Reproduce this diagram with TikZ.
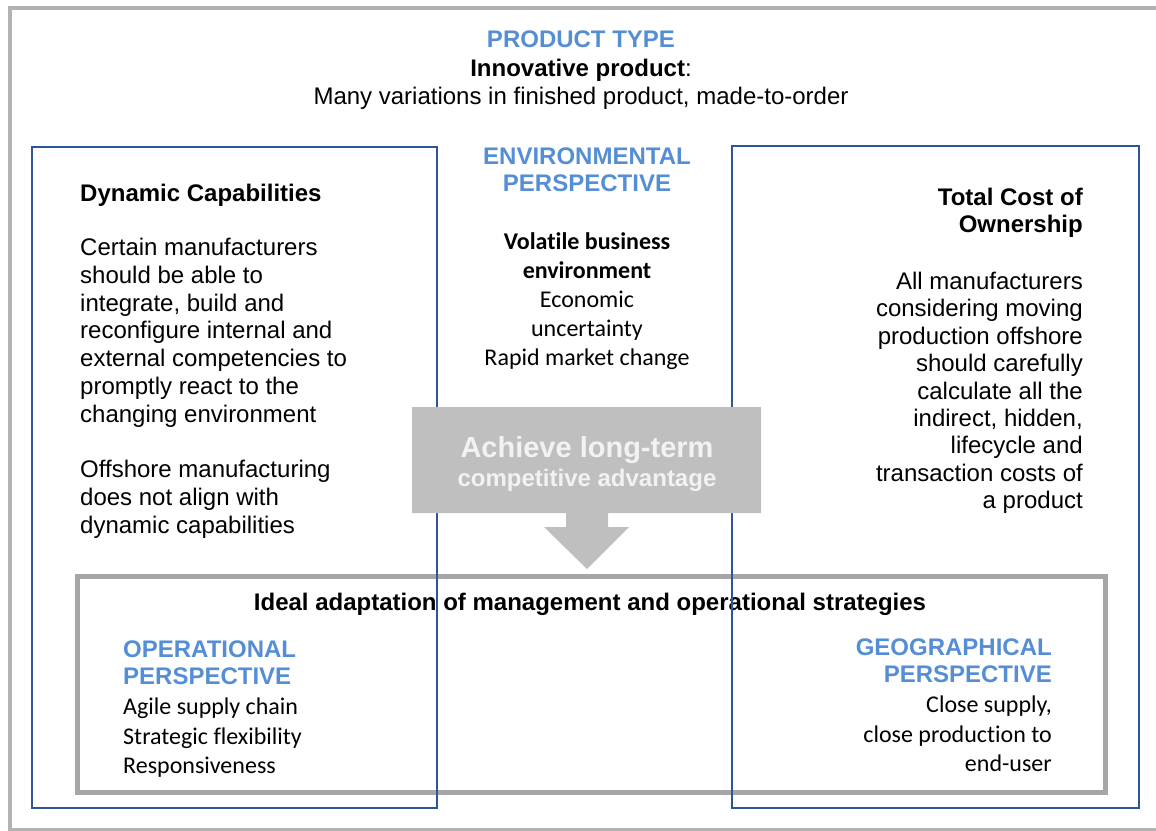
\documentclass[tikz,border=0pt]{standalone}
\usepackage{fontspec}
\setmainfont{Liberation Sans}
\newfontfamily\carlito[Ligatures=NoCommon]{Carlito}
\usetikzlibrary{positioning}

\definecolor{headblue}{RGB}{85,142,213}
\definecolor{boxblue}{RGB}{47,85,151}
\definecolor{framegray}{RGB}{166,166,166}
\definecolor{arrowgray}{RGB}{191,191,191}

\begin{document}
\begin{tikzpicture}[x=1pt, y=-1pt, inner sep=0pt]
		\tikzstyle{head} = [font=\fontsize{24}{26.5}\selectfont\bfseries, text=headblue]
		\tikzstyle{body} = [font=\fontsize{24}{27.8}\selectfont]
		\tikzstyle{cbody} = [font=\fontsize{24}{29.2}\selectfont\carlito]
		\tikzstyle{bluebox} = [draw=boxblue, line width=2pt]
		\tikzstyle{graybox} = [draw=framegray, line width=5pt]
		\tikzstyle{goal} = [text=white!95!black, font=\bfseries]
		
		\useasboundingbox (0,0) rectangle (1156,830);
		\draw[draw=framegray!85, line width=4pt] (9.5,7.5) rectangle (1162,830);
		
		% inner frame
		\draw[graybox] (77.5,576.5) rectangle (1105,792);
		
		% texts
		\node[head, anchor=north] 	at (581, 31)	(ptype) 	{PRODUCT TYPE};
		\node[body, anchor=north, align=center] 	at (581, 59)	(pdesc) 	{\textbf{Innovative product}:\\Many variations in finished product, made-to-order};
		
		\node[head, anchor=north, align=center] 	at (587, 148)	(envhead) 	{ENVIRONMENTAL\\PERSPECTIVE};
		\node[cbody, anchor=north, align=center] 	at (587, 232)	(envtext) 	{\textbf{Volatile business}\\\textbf{environment}\\Economic\\uncertainty\\Rapid market change};
		
		\node[body, anchor=north west] 	at (80, 184)	(dyntitle) 	{\textbf{Dynamic Capabilities}};
		\node[body, anchor=north west, align=left] 	at (80, 238)	(dyntext) 	{Certain manufacturers\\should be able to\\integrate, build and\\reconfigure internal and\\external competencies to\\promptly react to the\\changing environment\\[27.8pt]Offshore manufacturing\\does not align with\\dynamic capabilities};
		
		\node[body, anchor=north east, align=right, font=\fontsize{24}{27}\selectfont\bfseries] 	at (1083, 188)	(tcotitle) 	{Total Cost of\\Ownership};
		\node[body, anchor=north east, align=right, font=\fontsize{24}{27.4}\selectfont] 	at (1083, 272)	(tcotext) 	{All manufacturers\\considering moving\\production offshore\\should carefully\\calculate all the\\indirect, hidden,\\lifecycle and\\transaction costs of\\a product};
		
		\node[body, anchor=north] 	at (590, 593)	(ideal) 	{\textbf{Ideal adaptation of management and operational strategies}};
		
		\node[head, anchor=north west, align=left] 	at (123, 641)	(ophead) 	{OPERATIONAL\\PERSPECTIVE};
		\node[cbody, anchor=north west, align=left] 	at (123, 698)	(optext) 	{Agile supply chain\\Strategic flexibility\\Responsiveness};
		
		\node[head, anchor=north east, align=right] 	at (1052, 639)	(geohead) 	{GEOGRAPHICAL\\PERSPECTIVE};
		\node[cbody, anchor=north east, align=right] 	at (1052, 696)	(geotext) 	{Close supply,\\close production to\\end-user};
		
		% perspective boxes
		\draw[bluebox] (32,147) rectangle (437,808);
		\draw[bluebox] (732,146) rectangle (1139,808);
		
		% block arrow
		\fill[arrowgray] (412,407) -- (761,407) -- (761,513) -- (608,513) -- (608,527) -- (629,527)
			-- (587,569) -- (544,527) -- (566,527) -- (566,513) -- (412,513) -- cycle;
		\node[goal, font=\fontsize{29}{31}\selectfont\bfseries, anchor=north] 	at (587, 436)	(goaltop) 	{Achieve long-term};
		\node[goal, font=\fontsize{24}{26}\selectfont\bfseries, anchor=north] 	at (587, 469)	(goalsub) 	{competitive advantage};
	\end{tikzpicture}
\end{document}
